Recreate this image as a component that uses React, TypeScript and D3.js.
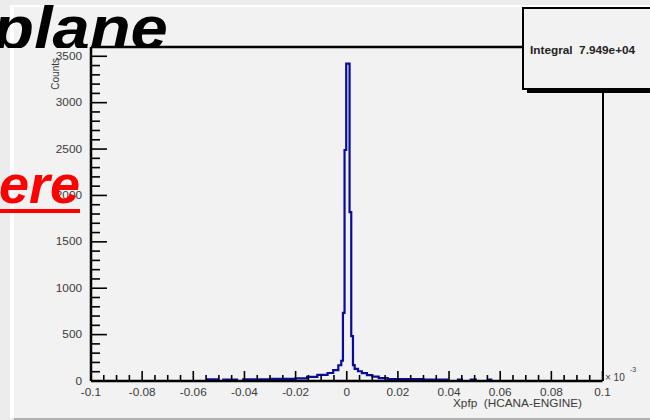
import React from "react";
import * as d3 from "d3";

// Histogram bin edges (Xpfp) and counts
const binEdges = [-0.0545, -0.0503, -0.0483, -0.0456, -0.0444, -0.0429, -0.0405, -0.030, -0.020, -0.0155, -0.0115, -0.0075, -0.0053, -0.0033, -0.00215, -0.00149, -0.00086, -0.0002, 0.0011, 0.00176, 0.00243, 0.0031, 0.0044, 0.0059, 0.0079, 0.0100, 0.0125, 0.0160, 0.030, 0.0395, 0.0435, 0.045, 0.0485, 0.0505, 0.0552, 0.0565];
const binCounts = [18, 0, 16, 0, 14, 0, 18, 22, 28, 45, 65, 86, 118, 170, 218, 734, 2490, 3420, 1820, 484, 172, 130, 105, 85, 64, 48, 32, 20, 16, 0, 14, 0, 14, 0, 14];

const xMajorTicks = [-0.1, -0.08, -0.06, -0.04, -0.02, 0, 0.02, 0.04, 0.06, 0.08, 0.1];
const xTickLabels = ["-0.1", "-0.08", "-0.06", "-0.04", "-0.02", "0", "0.02", "0.04", "0.06", "0.08", "0.1"];
const yMajorTicks = [0, 500, 1000, 1500, 2000, 2500, 3000, 3500];
const yTickLabels = ["0", "500", "1000", "1500", "2000", "2500", "3000", "3500"];

const statsLabel = "Integral  7.949e+04";
const xTitle = "Xpfp  (HCANA-ENGINE)";
const yTitle = "Counts";
const slideTitle = "plane";
const slideLink = "ere";

const FONT = "'Liberation Sans', Arial, sans-serif";

export default function App() {
  const W = 650, H = 420;
  const x = d3.scaleLinear().domain([-0.1, 0.1]).range([91, 602.5]);
  const y = d3.scaleLinear().domain([0, 3600]).range([381, 47]);

  const pts: [number, number][] = [[binEdges[0], 0]];
  binCounts.forEach((c, i) => pts.push([binEdges[i], c]));
  pts.push([binEdges[binEdges.length - 1], 0]);
  const line = d3.line<[number, number]>().x(d => x(d[0])).y(d => y(d[1])).curve(d3.curveStepAfter);

  const xMinor = d3.range(-0.1, 0.10001, 0.005).filter(v => Math.abs(Math.round(v / 0.02) * 0.02 - v) > 1e-6);
  const yMinor = d3.range(0, 3601, 100).filter(v => v % 500 !== 0);

  const sx = 1.18;
  const lbl = (tx: number, ty: number, s: string, anchor: string, size = 10, extra: any = {}) => (
    <text transform={`translate(${tx},${ty}) scale(${sx},1)`} textAnchor={anchor} fontSize={size} fontFamily={FONT} fill="#3a3a3a" style={{ whiteSpace: "pre" }} {...extra}>{s}</text>
  );

  return (
    <svg width={W} height={H} style={{ position: "absolute", left: 0, top: 0 }}>
      <defs>
        <clipPath id="titleClip"><rect x={0} y={0} width={W} height={48} /></clipPath>
      </defs>
      <rect x={0} y={0} width={W} height={H} fill="#ececec" />
      <rect x={14} y={7} width={W - 14} height={411} fill="#f2f2f2" />
      <rect x={10} y={5} width={4} height={413} fill="#ffffff" />
      <rect x={10} y={5} width={W - 10} height={2} fill="#ffffff" />
      <rect x={14} y={418} width={W - 14} height={2} fill="#b0b0b0" />

      {/* histogram */}
      <path d={line(pts) || ""} fill="none" stroke="#0a0a9c" strokeWidth={2.2} />

      {/* frame */}
      <line x1={x(-0.1)} y1={47} x2={523} y2={47} stroke="#000" strokeWidth={2.5} />
      <line x1={603} y1={92} x2={603} y2={381} stroke="#000" strokeWidth={2} />

      {/* x axis */}
      <line x1={x(-0.1)} y1={381} x2={x(0.1)} y2={381} stroke="#000" strokeWidth={2.5} />
      {xMajorTicks.map((v, i) => (
        <line key={"xM" + i} x1={x(v)} x2={x(v)} y1={381} y2={371} stroke="#000" strokeWidth={1.6} />
      ))}
      {xMinor.map((v, i) => (
        <line key={"xm" + i} x1={x(v)} x2={x(v)} y1={381} y2={375} stroke="#000" strokeWidth={1.6} />
      ))}
      {xMajorTicks.map((v, i) => (
        <g key={"xl" + i}>{lbl(x(v), 396, xTickLabels[i], "middle", 10)}</g>
      ))}
      <text x={605} y={381} fontSize={10} fontFamily={FONT} fill="#3a3a3a">× 10</text>
      <text x={630} y={372} fontSize={7} fontFamily={FONT} fill="#3a3a3a">-3</text>
      {lbl(582, 407, xTitle, "end", 10)}

      {/* y axis */}
      <line x1={x(-0.1)} y1={47} x2={x(-0.1)} y2={381} stroke="#000" strokeWidth={2.5} />
      {yMajorTicks.map((v, i) => (
        <line key={"yM" + i} x1={x(-0.1)} x2={x(-0.1) + 16} y1={y(v)} y2={y(v)} stroke="#000" strokeWidth={1.6} />
      ))}
      {yMinor.map((v, i) => (
        <line key={"ym" + i} x1={x(-0.1)} x2={x(-0.1) + 9} y1={y(v)} y2={y(v)} stroke="#000" strokeWidth={1.6} />
      ))}
      {yMajorTicks.map((v, i) => (
        <g key={"yl" + i}>{lbl(82, y(v) + 3.5, yTickLabels[i], "end", 10)}</g>
      ))}
      <text transform={`translate(59,58) rotate(-90)`} textAnchor="end" fontSize={10} fontFamily={FONT} fill="#3a3a3a">{yTitle}</text>

      {/* stats box */}
      <rect x={527} y={12} width={200} height={81} fill="#000" />
      <rect x={523} y={8} width={200} height={81} fill="#f2f2f2" stroke="#000" strokeWidth={2} />
      {lbl(530, 54, statsLabel, "start", 10, { fontWeight: "bold", fill: "#222" })}

      {/* slide overlays */}
      <g clipPath="url(#titleClip)">
        <text transform="translate(-7,49) scale(1.08,1)" fontSize={62} fontWeight="bold" fontStyle="italic" fontFamily={FONT} fill="#000">{slideTitle}</text>
      </g>
      <text x={-1} y={203} fontSize={54} fontWeight="bold" fontStyle="italic" fontFamily={FONT} fill="#ff0000">{slideLink}</text>
      <rect x={0} y={209} width={80} height={4} fill="#ff0000" />
    </svg>
  );
}
